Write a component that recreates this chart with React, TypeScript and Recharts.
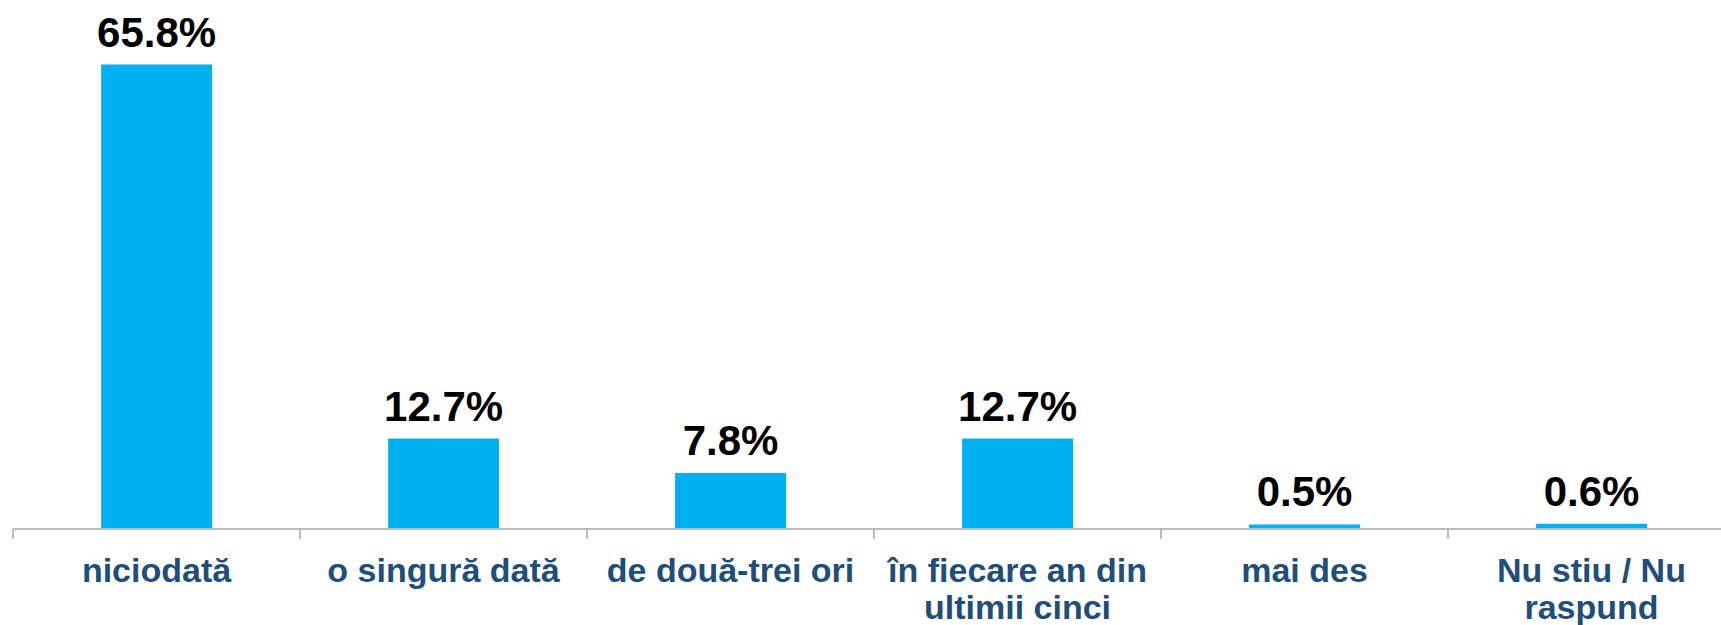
import { BarChart, Bar, XAxis, YAxis, LabelList } from "recharts"

const categories = [
  "niciodată",
  "o singură dată",
  "de două-trei ori",
  "în fiecare an din\nultimii cinci",
  "mai des",
  "Nu stiu / Nu\nraspund",
]

const values = [65.8, 12.7, 7.8, 12.7, 0.5, 0.6]

const data = categories.map((name, i) => ({ name, value: values[i], pos: i + 0.5 }))

// category boundaries, where the reference puts its tick marks
const boundaries = categories.map((_, i) => i).concat(categories.length)

const FONT = "'Liberation Sans', Arial, sans-serif"

function CategoryTick(props: any) {
  const { x, y, payload } = props
  const lines = String(payload.value).split("\n")
  return (
    <text
      x={x}
      y={y}
      textAnchor="middle"
      fill="#1F4E79"
      fontFamily={FONT}
      fontWeight="bold"
      fontSize={34}
    >
      {lines.map((line, i) => (
        <tspan key={i} x={x} dy={i === 0 ? 54 : 37}>
          {line}
        </tspan>
      ))}
    </text>
  )
}

const NoTick = () => <g />

export default function App() {
  return (
    <div
      style={{
        position: "absolute",
        left: 0,
        top: 0,
        width: 1721,
        height: 625,
        overflow: "hidden",
        background: "#fff",
      }}
    >
      <BarChart
        width={1740}
        height={625}
        data={data}
        margin={{ top: 35, right: 5, bottom: 7, left: 13 }}
        barCategoryGap="30.7%"
      >
        <XAxis
          dataKey="name"
          interval={0}
          height={1}
          axisLine={false}
          tickLine={false}
          tickSize={0}
          tickMargin={0}
          tick={<CategoryTick />}
        />
        <XAxis
          xAxisId="edges"
          type="number"
          dataKey="pos"
          domain={[0, categories.length]}
          ticks={boundaries}
          interval={0}
          height={89}
          axisLine={{ stroke: "#A6A6A6", strokeWidth: 1.5 }}
          tickLine={{ stroke: "#A6A6A6", strokeWidth: 1.5 }}
          tickSize={10}
          tick={<NoTick />}
        />
        <YAxis hide domain={[0, 70]} />
        <Bar dataKey="value" fill="#00B0F0" isAnimationActive={false}>
          <LabelList
            dataKey="value"
            position="top"
            offset={18}
            formatter={(v: any) => `${Number(v).toFixed(1)}%`}
            fill="#000"
            fontFamily={FONT}
            fontWeight="bold"
            fontSize={42}
          />
        </Bar>
      </BarChart>
    </div>
  )
}
